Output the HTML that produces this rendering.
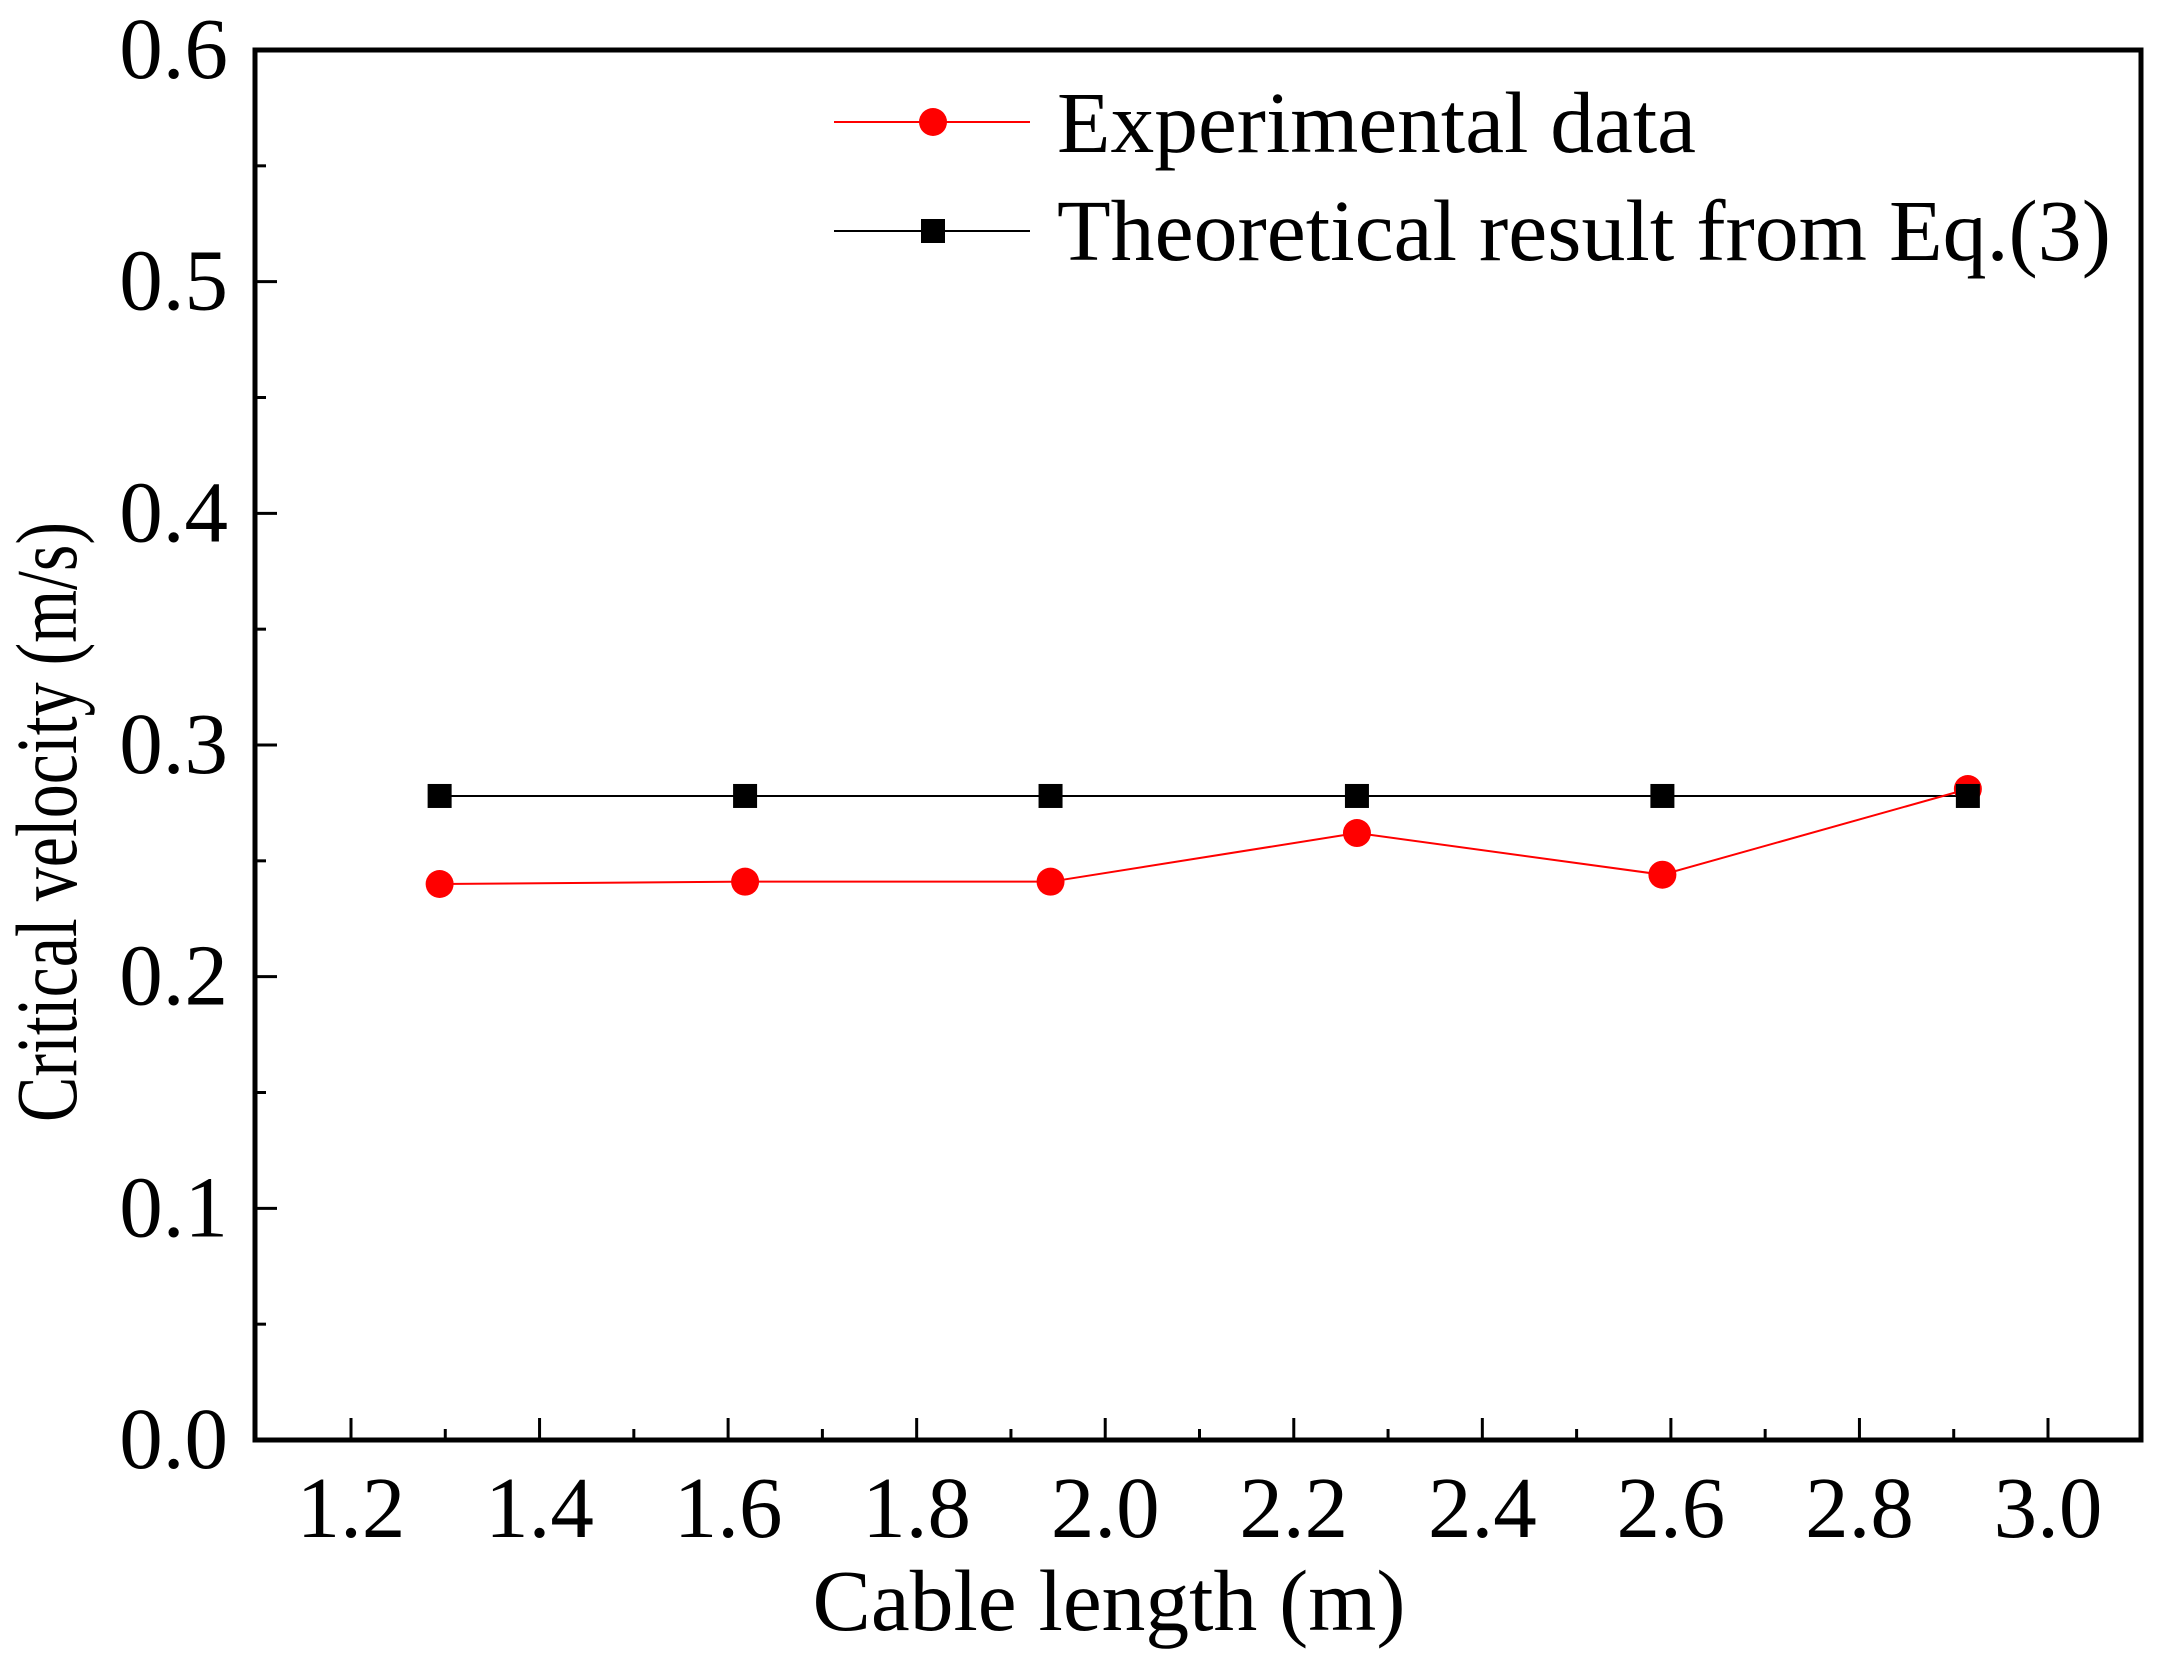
<!DOCTYPE html>
<html><head><meta charset="utf-8"><style>
html,body{margin:0;padding:0;background:#fff;}
svg{display:block;font-family:"Liberation Serif","Times New Roman",serif;}
</style></head><body>
<svg id="chart" width="2160" height="1657" viewBox="0 0 2160 1657" xmlns="http://www.w3.org/2000/svg">
<g id="axes"></g><g id="series"></g><g id="legend"></g>
</svg>
<script>
const xValues = [1.294, 1.618, 1.942, 2.267, 2.591, 2.915];
const experimental = [0.240, 0.241, 0.241, 0.262, 0.244, 0.281];
const theoretical = [0.278, 0.278, 0.278, 0.278, 0.278, 0.278];
const xTicks = ["1.2","1.4","1.6","1.8","2.0","2.2","2.4","2.6","2.8","3.0"];
const yTicks = ["0.0","0.1","0.2","0.3","0.4","0.5","0.6"];

const NS = "http://www.w3.org/2000/svg";
const L = 255, R = 2141, T = 50, B = 1440;
const X0 = 351, X1 = 2048;
function sx(v){ return X0 + (v-1.2)*(X1-X0)/1.8; }
function sy(v){ return B - v*(B-T)/0.6; }
function mk(tag, attrs, parent){ const e=document.createElementNS(NS,tag); for(const k in attrs) e.setAttribute(k,attrs[k]); parent.appendChild(e); return e; }

const axes = document.getElementById('axes');
const frame = mk('rect',{x:L,y:T,width:R-L,height:B-T,fill:'none',stroke:'#000','stroke-width':5},axes);



xTicks.forEach((t,i)=>{
  const v = parseFloat(t), x = sx(v);
  const tk = mk('line',{x1:x,x2:x,y1:B,y2:B-22,stroke:'#000','stroke-width':3},axes);
  
  
  if(i<xTicks.length-1){
    const xm = sx(v+0.1);
    const mt = mk('line',{x1:xm,x2:xm,y1:B,y2:B-11,stroke:'#000','stroke-width':3},axes);
    
    
  }
  const lb = mk('text',{x:x,y:1537,'text-anchor':'middle','font-size':87},axes);
  lb.textContent = t;
  
  
});
yTicks.forEach((t,i)=>{
  const v = parseFloat(t), y = sy(v);
  const tk = mk('line',{x1:L,x2:L+22,y1:y,y2:y,stroke:'#000','stroke-width':3},axes);
  
  
  if(i<yTicks.length-1){
    const ym = sy(v+0.05);
    const mt = mk('line',{x1:L,x2:L+11,y1:ym,y2:ym,stroke:'#000','stroke-width':3},axes);
    
    
  }
  const lb = mk('text',{x:228,y:y+28,'text-anchor':'end','font-size':87},axes);
  lb.textContent = t;
  
  
});
const xt = mk('text',{x:1109,y:1630,'text-anchor':'middle','font-size':87,textLength:593,lengthAdjust:'spacingAndGlyphs'},axes);
xt.textContent = 'Cable length (m)';


const yt = mk('text',{x:0,y:0,'text-anchor':'middle','font-size':87,textLength:600,lengthAdjust:'spacingAndGlyphs',transform:'translate(76,822) rotate(-90)'},axes);
yt.textContent = 'Critical velocity (m/s)';



const series = document.getElementById('series');
const tl = mk('polyline',{points:xValues.map((x,i)=>sx(x)+','+sy(theoretical[i])).join(' '),fill:'none',stroke:'#000','stroke-width':2},series);


const el = mk('polyline',{points:xValues.map((x,i)=>sx(x)+','+sy(experimental[i])).join(' '),fill:'none',stroke:'#f00','stroke-width':2},series);


xValues.forEach((x,i)=>{
  const c = mk('circle',{cx:sx(x),cy:sy(experimental[i]),r:14,fill:'#f00'},series);
  
  
});
xValues.forEach((x,i)=>{
  const s = mk('rect',{x:sx(x)-12,y:sy(theoretical[i])-12,width:24,height:24,fill:'#000'},series);
  
  
});

const lg = document.getElementById('legend');


const l1 = mk('line',{x1:834,x2:1030,y1:122,y2:122,stroke:'#f00','stroke-width':2},lg);


const c1 = mk('circle',{cx:933,cy:122,r:14,fill:'#f00'},lg);


const t1 = mk('text',{x:1057,y:152,'font-size':87,textLength:639,lengthAdjust:'spacingAndGlyphs'},lg);
t1.textContent = 'Experimental data';


const l2 = mk('line',{x1:834,x2:1030,y1:231,y2:231,stroke:'#000','stroke-width':2},lg);


const s2 = mk('rect',{x:921,y:219,width:24,height:24,fill:'#000'},lg);


const t2 = mk('text',{x:1057,y:260,'font-size':87,textLength:1054,lengthAdjust:'spacingAndGlyphs'},lg);
t2.textContent = 'Theoretical result from Eq.(3)';


</script>
</body></html>
